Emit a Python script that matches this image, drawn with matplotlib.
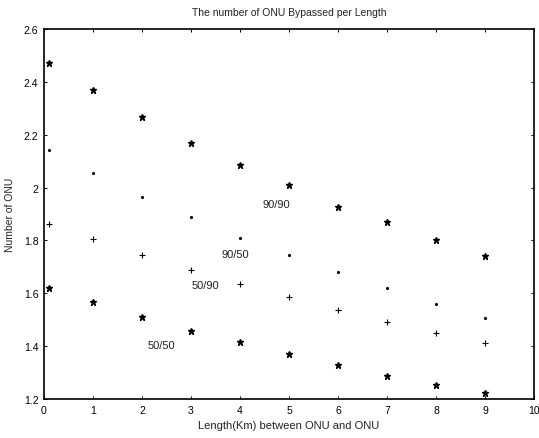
import matplotlib
matplotlib.use('Agg')
import matplotlib.pyplot as plt

plt.rcParams['font.family'] = ['Liberation Sans', 'DejaVu Sans']

# 거리(Km)
length = [0.1, 1, 2, 3, 4, 5, 6, 7, 8, 9]
# 네 가지 경우
onu_90_90 = [2.472, 2.370, 2.268, 2.170, 2.087, 2.008, 1.928, 1.868, 1.800, 1.740]
onu_90_50 = [2.143, 2.057, 1.966, 1.887, 1.811, 1.743, 1.679, 1.619, 1.558, 1.506]
onu_50_90 = [1.864, 1.804, 1.743, 1.687, 1.634, 1.585, 1.536, 1.490, 1.449, 1.411]
onu_50_50 = [1.619, 1.566, 1.509, 1.457, 1.415, 1.370, 1.328, 1.287, 1.253, 1.223]

labels = ['90/90', '90/50', '50/90', '50/50']
label_xy = [(4.45, 1.936), (3.63, 1.747), (3.02, 1.63), (2.12, 1.404)]

x_ticks = list(range(0, 11))
y_ticks = [1.2, 1.4, 1.6, 1.8, 2.0, 2.2, 2.4, 2.6]
y_ticklabels = ['1.2', '1.4', '1.6', '1.8', '2', '2.2', '2.4', '2.6']

fig = plt.figure(figsize=(5.39, 4.39), dpi=100)
ax = fig.add_axes([0.0816, 0.0888, 0.9091, 0.8429])

ax.plot(length, onu_90_90, linestyle='none', marker='*', markersize=4.5, color='k')
ax.plot(length, onu_90_50, linestyle='none', marker='.', markersize=2.5, color='k')
ax.plot(length, onu_50_90, linestyle='none', marker='+', markersize=4, color='k', markeredgewidth=0.8)
ax.plot(length, onu_50_50, linestyle='none', marker='*', markersize=4.5, color='k')

for lab, (tx, ty) in zip(labels, label_xy):
    ax.text(tx, ty, lab, fontsize=8, va='center', ha='left', color='#222222')

ax.set_xlim(0, 10)
ax.set_ylim(1.2, 2.6)
ax.set_xticks(x_ticks)
ax.set_yticks(y_ticks)
ax.set_yticklabels(y_ticklabels)
ax.tick_params(direction='in', top=True, right=True, labelsize=7.5, length=2.5, width=0.7, pad=4)
for s in ax.spines.values():
    s.set_linewidth(1.2)

ax.set_title('The number of ONU Bypassed per Length', fontsize=7.5, pad=10, color='#222222')
ax.set_xlabel('Length(Km) between ONU and ONU', fontsize=8, labelpad=4, color='#222222')
ax.set_ylabel('Number of ONU', fontsize=7.5, labelpad=6, color='#222222')

fig.savefig('out.png', dpi=100)
